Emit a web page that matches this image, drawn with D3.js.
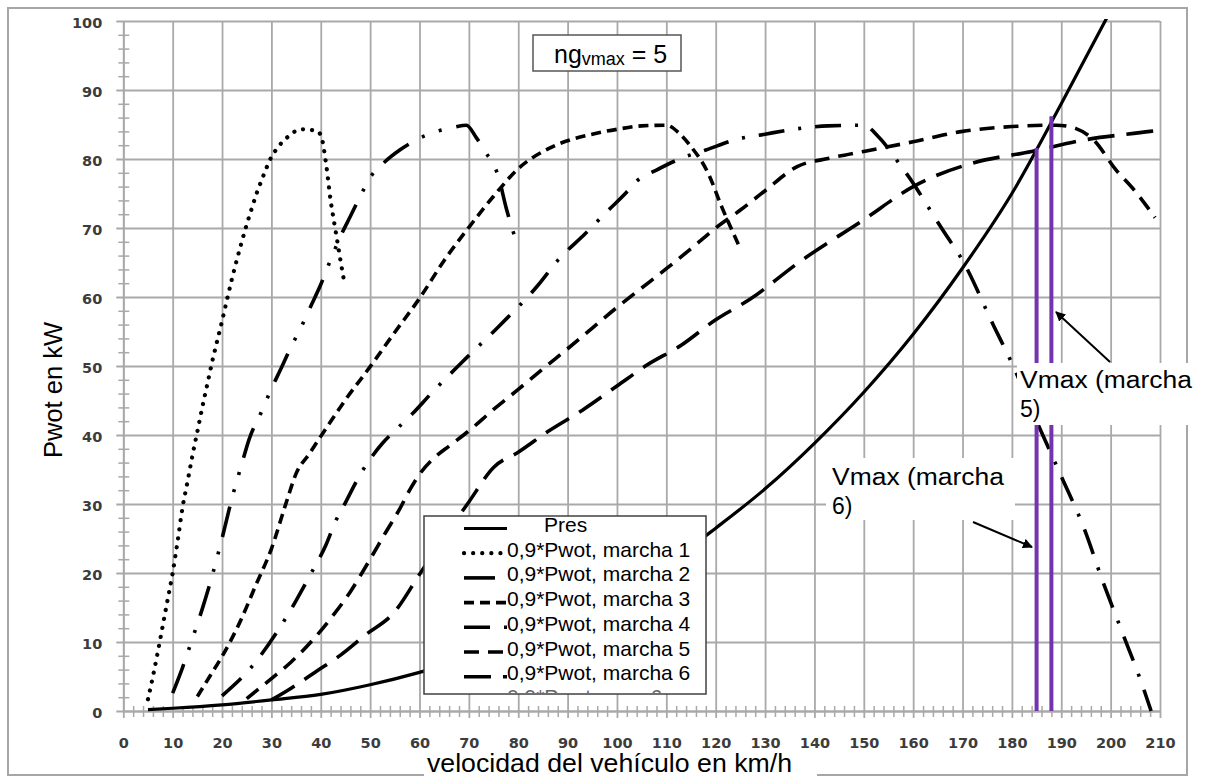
<!DOCTYPE html>
<html><head><meta charset="utf-8">
<script src="https://cdn.jsdelivr.net/npm/d3@7"></script>
<style>body{margin:0;background:#fff}svg{display:block}</style>
</head><body>
<svg id="c" width="1208" height="777"></svg>
<script>
// ---------- data ----------
const xTickLabels = [0,10,20,30,40,50,60,70,80,90,100,110,120,130,140,150,160,170,180,190,200,210];
const yTickLabels = [0,10,20,30,40,50,60,70,80,90,100];
const xMinorTicks = [2,4,6,8,12,14,16,18,22,24,26,28,32,34,36,38,42,44,46,48,52,54,56,58,62,64,66,68,72,74,76,78,82,84,86,88,92,94,96,98,102,104,106,108,112,114,116,118,122,124,126,128,132,134,136,138,142,144,146,148,152,154,156,158,162,164,166,168,172,174,176,178,182,184,186,188,192,194,196,198,202,204,206,208];
const yMinorTicks = [2,4,6,8,12,14,16,18,22,24,26,28,32,34,36,38,42,44,46,48,52,54,56,58,62,64,66,68,72,74,76,78,82,84,86,88,92,94,96,98];

const presSpeed = [5,10,20,30,40,50,60,70,80,90,100,110,120,130,140,150,160,170,180,190,200];
const presPower = [0.2,0.4,0.9,1.6,2.4,3.8,5.6,7.8,10.4,13.4,16.9,21.2,26.5,32.2,38.8,46.2,54.6,64.2,75.0,88.0,101.5];

const gear1Speed = [5,6,7,8,9,10,11,12,13,14,15,16,17,18,19,20,21,22,23,24,25,26,27,28,29,30,31,32,33,34,35,36,37,38,39,40,41,42,43,44,44.8];
const gear1Power = [1.7,5,8.6,12.4,16.2,20,24.6,29.5,33.2,37,40.5,44,47.3,50.6,53.6,56.5,59.6,62.6,65.4,68,70.5,72.8,75,76.9,78.7,80.3,81.4,82.3,83,83.6,84.1,84.3,84.3,84.2,84.1,83.5,79.7,74,69.6,65.3,62];

const gear2Speed = [10,12,14,16,18,20,22,24,25.5,28,30,32,34,36,38,40,42,44,46,48,50,53,56,60,64,67,69.5,71.5,73.3,76,77.6,80];
const gear2Power = [2.6,6.3,10.5,14.8,19.6,25,30.8,35.8,39.4,43.4,46.7,49.7,52.8,55.6,58.7,61.8,65.4,68.8,71.7,74.6,77.3,79.6,81.3,83,84.1,84.6,84.9,83.1,81.1,77.4,72.8,67.2];

const gear3Speed = [15,17.5,20,23.5,27,30,33,35,37.7,40,45,50,55,60,65,70,75,80,87,95,100,105,110,112.5,115,118.5,121.2,125];
const gear3Power = [2.1,5,7.9,12.7,18.5,23.5,30.2,34.4,37.3,39.8,45.1,49.9,54.9,59.8,65.3,70.1,74.6,78.6,81.8,83.6,84.3,84.8,84.9,83.8,81.8,77.9,73.1,67];

const gear4Speed = [20,26,31,35,38,41,43,45,48,50,52.5,55,58.6,62.6,68.4,76,84,88,93.6,98,101.7,104,108,113,118,124,130,136.7,142.8,150,153,157.6,160,163,166,170,176.4,180,185.5,190,194.6,198.3,202.3,206.4,208.2];
const gear4Power = [2.2,6.4,11.3,16,19.9,24,27.5,30.2,34.3,36.5,38.8,40.6,43.1,46.2,50.4,55.7,61.7,65.3,69.2,72.4,75,76.8,78.4,80.1,81.3,82.8,83.6,84.4,84.8,84.9,83.2,78.9,76.5,73.1,69.7,65.3,55.7,50.4,41.2,34,26.5,19,11.5,3.8,0];

const gear5Speed = [25,30,34,38,42,46,50,53,56,58,60,63,66,70,75,80,85,90,95,100,105,110,115,120,125,130,136.5,143,150,160,170,180,189,193,196.5,201,205,209];
const gear5Power = [1.8,4.7,7.1,10,13.4,17.3,22,25.7,29.3,32,34.3,36.7,38.4,40.6,43.7,46.6,49.6,52.5,55.5,58.5,61.3,64.1,67,70,72.6,75.4,78.9,80.1,81.1,82.5,84,84.7,84.9,84.4,82.8,78.5,75.3,71.5];

const gear6Speed = [30,34,39,44,49,55,60,65,70,75,80,86,93,100,106,113,120,127,137,150,160,164,172,184,195,208,210];
const gear6Power = [1.6,3.3,5.7,8.1,11,14.4,19.8,25.2,30.3,35.3,37.5,40.5,43.6,47.1,50.1,53,56.7,59.7,65.1,71.2,76,77.4,79.4,81.1,82.8,84,84.2];

const vmaxSpeed = [185, 188];
const vmaxTop = [81.6, 86.2];

const legendLabels = ["Pres","0,9*Pwot, marcha 1","0,9*Pwot, marcha 2","0,9*Pwot, marcha 3","0,9*Pwot, marcha 4","0,9*Pwot, marcha 5","0,9*Pwot, marcha 6"];

// ---------- layout / styles ----------
const svg = d3.select('#c');
const x = d3.scaleLinear().domain([0,210]).range([123.3,1160]);
const y = d3.scaleLinear().domain([0,100]).range([711,21]);
const gridColor = '#a9a9a9';
const tickFont = "bold 14.5px 'DejaVu Sans'";
const textFont = "'Liberation Sans', Arial, sans-serif";

const series = [
  {speed: presSpeed, power: presPower, dash: null, w: 3.2, cap: 'butt'},
  {speed: gear1Speed, power: gear1Power, dash: '0.1 9', w: 4.2, cap: 'round'},
  {speed: gear2Speed, power: gear2Power, dash: '31 15 3 15 3 15', w: 3.6, cap: 'butt'},
  {speed: gear3Speed, power: gear3Power, dash: '10 6', w: 3.6, cap: 'butt'},
  {speed: gear4Speed, power: gear4Power, dash: '26 14 3 14', w: 3.6, cap: 'butt'},
  {speed: gear5Speed, power: gear5Power, dash: '15 9', w: 3.6, cap: 'butt'},
  {speed: gear6Speed, power: gear6Power, dash: '27 12', w: 3.6, cap: 'butt'}
];

// outer frame
svg.append('rect').attr('x',8).attr('y',8).attr('width',1179).attr('height',767)
  .attr('fill','#fff').attr('stroke','#a6a6a6').attr('stroke-width',2);

// gridlines via axes
const gx = svg.append('g').attr('transform',`translate(0,${y(0)})`)
  .call(d3.axisBottom(x).tickValues(xTickLabels).tickSize(0).tickFormat(''));
gx.select('.domain').remove();
gx.selectAll('.tick line').attr('y1',-(y(0)-y(100))).attr('y2',7).attr('stroke',gridColor).attr('stroke-width',1.8);

const gy = svg.append('g').attr('transform',`translate(${x(0)},0)`)
  .call(d3.axisLeft(y).tickValues(yTickLabels).tickSize(0).tickFormat(''));
gy.select('.domain').remove();
gy.selectAll('.tick line').attr('x1',-7).attr('x2',x(210)-x(0)).attr('stroke',gridColor).attr('stroke-width',1.8);

// minor ticks
const mx = svg.append('g').attr('transform',`translate(0,${y(0)})`)
  .call(d3.axisBottom(x).tickValues(xMinorTicks).tickSize(0).tickFormat(''));
mx.select('.domain').attr('stroke',gridColor).attr('stroke-width',1.8);
mx.selectAll('.tick line').attr('y1',-5).attr('y2',6).attr('stroke',gridColor).attr('stroke-width',1.5);

const my = svg.append('g').attr('transform',`translate(${x(0)},0)`)
  .call(d3.axisLeft(y).tickValues(yMinorTicks).tickSize(0).tickFormat(''));
my.select('.domain').attr('stroke',gridColor).attr('stroke-width',1.8);
my.selectAll('.tick line').attr('x1',-5).attr('x2',6).attr('stroke',gridColor).attr('stroke-width',1.5);

// tick labels
const lx = svg.append('g').attr('transform',`translate(0,${y(0)})`)
  .call(d3.axisBottom(x).tickValues(xTickLabels).tickSize(0).tickFormat(d3.format('d')));
lx.select('.domain').remove();
lx.selectAll('text').attr('y',37).attr('dy',0).style('font',tickFont).attr('fill','#3c3c3c');

const ly = svg.append('g').attr('transform',`translate(${x(0)},0)`)
  .call(d3.axisLeft(y).tickValues(yTickLabels).tickSize(0).tickFormat(d3.format('d')));
ly.select('.domain').remove();
ly.selectAll('text').attr('x',-21).attr('dy','0.45em').style('font',tickFont).attr('fill','#3c3c3c');

// clip
svg.append('clipPath').attr('id','plotclip').append('rect')
  .attr('x',x(0)).attr('y',y(100)-2).attr('width',x(210)-x(0)+4).attr('height',y(0)-y(100)+4);

const line = d3.line().x(d=>x(d[0])).y(d=>y(d[1])).curve(d3.curveMonotoneX);
const curves = svg.append('g').attr('clip-path','url(#plotclip)');
series.forEach(s => {
  const pts = s.speed.map((v,i)=>[v, s.power[i]]);
  curves.append('path').attr('d', line(pts)).attr('fill','none').attr('stroke','#000')
    .attr('stroke-width', s.w).attr('stroke-linecap', s.cap)
    .attr('stroke-dasharray', s.dash);
});

// vmax purple lines
vmaxSpeed.forEach((v,i) => {
  svg.append('line').attr('x1',x(v)).attr('x2',x(v)).attr('y1',y(0)).attr('y2',y(vmaxTop[i]))
    .attr('stroke','#7434ad').attr('stroke-width',4);
});

// legend
const lg = svg.append('g');
lg.append('rect').attr('x',424).attr('y',516).attr('width',282).attr('height',178)
  .attr('fill','#fff').attr('stroke','#404040').attr('stroke-width',1.5);
lg.append('clipPath').attr('id','lgclip').append('rect').attr('x',425).attr('y',517).attr('width',280).attr('height',176);
lg.append('text').attr('x',507).attr('y',704).attr('clip-path','url(#lgclip)')
  .style('font-family',textFont).style('font-size','21px').attr('fill','#666').text('0.9*Pwot, gear 6');
legendLabels.forEach((lab,i) => {
  const by = 532 + i*24.7;
  const s = series[i];
  lg.append('line').attr('x1',464).attr('x2',507).attr('y1',by-3.5).attr('y2',by-3.5)
    .attr('stroke','#000').attr('stroke-width', s.w).attr('stroke-linecap', s.cap)
    .attr('stroke-dasharray', s.dash);
  lg.append('text').attr('x', i===0 ? 544 : 507).attr('y', by)
    .style('font-family',textFont).style('font-size','21px').attr('fill','#000').text(lab);
});

// ng box
svg.append('rect').attr('x',533).attr('y',35).attr('width',148).attr('height',36)
  .attr('fill','#fff').attr('stroke','#555').attr('stroke-width',1.5);
const ng = svg.append('text').attr('x',554).attr('y',63).style('font-family',textFont).attr('fill','#000');
ng.append('tspan').style('font-size','25px').text('ng');
ng.append('tspan').style('font-size','18px').attr('dy',2).text('vmax');
ng.append('tspan').style('font-size','25px').attr('dy',-2).text(' = 5');

// annotation boxes
svg.append('rect').attr('x',1017).attr('y',363).attr('width',183).attr('height',62).attr('fill','#fff');
svg.append('rect').attr('x',826).attr('y',458).attr('width',189).attr('height',62).attr('fill','#fff');
function annot(tx, ty, l1, l2){
  const t = svg.append('text').style('font-family',textFont).style('font-size','23px').attr('fill','#000');
  t.append('tspan').attr('x',tx).attr('y',ty).attr('textLength',172).attr('lengthAdjust','spacingAndGlyphs').text(l1);
  t.append('tspan').attr('x',tx).attr('y',ty+29).text(l2);
}
annot(1020, 388, 'Vmax (marcha', '5)');
annot(832, 485, 'Vmax (marcha', '6)');

// arrows
const defs = svg.append('defs');
defs.append('marker').attr('id','arr').attr('viewBox','0 0 10 10').attr('refX',9).attr('refY',5)
  .attr('markerWidth',5).attr('markerHeight',5).attr('orient','auto')
  .append('path').attr('d','M0,0 L10,5 L0,10 z').attr('fill','#000');
svg.append('line').attr('x1',1110).attr('y1',362).attr('x2',1056).attr('y2',312)
  .attr('stroke','#000').attr('stroke-width',2).attr('marker-end','url(#arr)');
svg.append('line').attr('x1',973).attr('y1',522).attr('x2',1032).attr('y2',547)
  .attr('stroke','#000').attr('stroke-width',2).attr('marker-end','url(#arr)');

// axis titles
svg.append('rect').attr('x',424).attr('y',751).attr('width',393).attr('height',26).attr('fill','#fff');
svg.append('text').attr('x',427).attr('y',772).attr('textLength',365).attr('lengthAdjust','spacingAndGlyphs')
  .style('font-family',textFont).style('font-size','25px').attr('fill','#000').text('velocidad del vehículo en km/h');
svg.append('text').attr('transform','translate(62,390) rotate(-90)').attr('text-anchor','middle')
  .style('font-family',textFont).style('font-size','25.5px').attr('fill','#000').text('Pwot en kW');
</script>
</body></html>
